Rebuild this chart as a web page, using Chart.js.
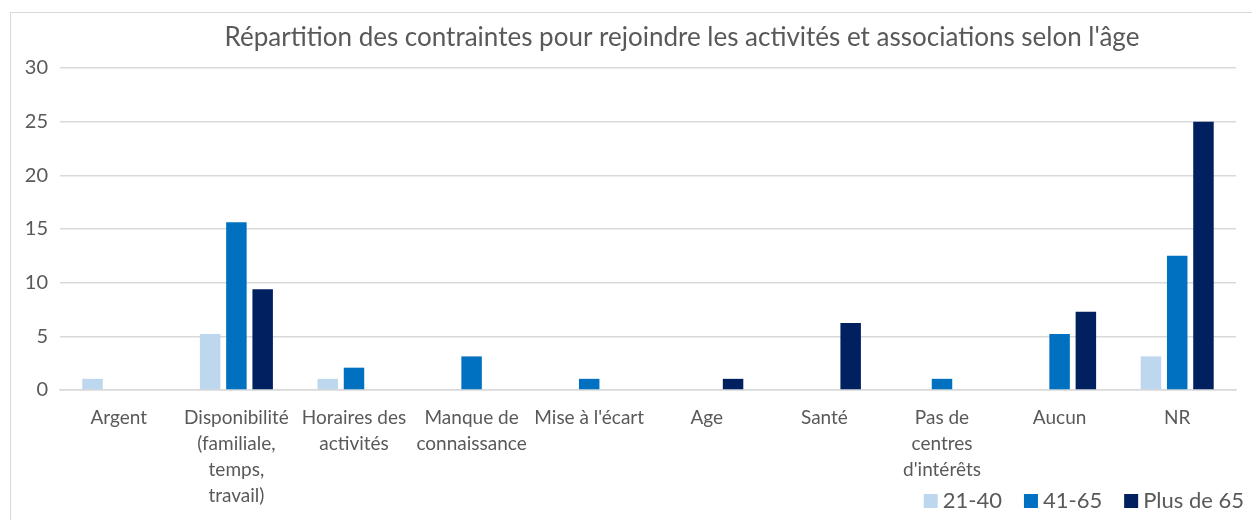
<!DOCTYPE html>
<html>
<head>
<meta charset="utf-8">
<script src="https://cdn.jsdelivr.net/npm/chart.js@4/dist/chart.umd.min.js"></script>
<style>
  html, body { margin: 0; padding: 0; background: #fff; }
  #frame {
    position: absolute; left: 10px; top: 12px;
    width: 1260px; height: 520px;
    border: 1px solid #d9d9d9;
  }
  #wrap { position: absolute; left: 0; top: 0; width: 1252px; height: 520px; }
</style>
</head>
<body>
<div id="frame"></div>
<div id="wrap"><canvas id="chart"></canvas></div>
<script>
const categories = [
    "Argent",
    ["Disponibilité", "(familiale,", "temps,", "travail)"],
    ["Horaires des", "activités"],
    ["Manque de", "connaissance"],
    "Mise à l'écart",
    "Age",
    "Santé",
    ["Pas de", "centres", "d'intérêts"],
    "Aucun",
    "NR",
];
const age21to40 = [1.04, 5.21, 1.04, 0, 0, 0, 0, 0, 0, 3.13];
const age41to65 = [0, 15.63, 2.08, 3.13, 1.04, 0, 0, 1.04, 5.21, 12.5];
const age65plus = [0, 9.38, 0, 0, 0, 1.04, 6.25, 0, 7.29, 25];
const yTicks = [0, 5, 10, 15, 20, 25, 30];
const chartTitle = "Répartition des contraintes pour rejoindre les activités et associations selon l'âge";

const textColor = "#595959";
const font = "Lato, 'Open Sans', sans-serif";

// title and legend drawn by hand: the legend shares its band with the
// multi-line x labels, and the title sits right of the plot centre
const overlayPlugin = {
    id: "overlay",
    afterDraw(chart) {
        const ctx = chart.ctx;
        ctx.save();
        ctx.font = "26px " + font;
        ctx.fillStyle = textColor;
        ctx.textAlign = "center";
        ctx.textBaseline = "middle";
        ctx.fillText(chartTitle, 682, 38);

        // legend, right aligned
        ctx.font = "22px " + font;
        ctx.textAlign = "left";
        const box = 14, gap = 5, spacing = 22, y = 501;
        const items = chart.data.datasets.map((ds) => ({
            label: ds.label,
            color: ds.backgroundColor,
            w: box + gap + ctx.measureText(ds.label).width,
        }));
        let x = 1244 - items.reduce((s, it) => s + it.w, 0) - spacing * (items.length - 1);
        items.forEach((it) => {
            ctx.fillStyle = it.color;
            ctx.fillRect(x, y - box / 2, box, box);
            ctx.fillStyle = textColor;
            ctx.fillText(it.label, x + box + gap, y);
            x += it.w + spacing;
        });
        ctx.restore();
    },
};

new Chart(document.getElementById("chart"), {
    type: "bar",
    data: {
        labels: categories,
        datasets: [
            { label: "21-40", data: age21to40, backgroundColor: "#bdd7ee" },
            { label: "41-65", data: age41to65, backgroundColor: "#0070c0" },
            { label: "Plus de 65", data: age65plus, backgroundColor: "#002060" },
        ],
    },
    plugins: [overlayPlugin],
    options: {
        responsive: true,
        maintainAspectRatio: false,
        animation: false,
        categoryPercentage: 0.67,
        barPercentage: 0.78,
        layout: { padding: { left: 0, right: 16, top: 68, bottom: 0 } },
        plugins: {
            title: { display: false },
            legend: { display: false },
            tooltip: { enabled: false },
        },
        scales: {
            y: {
                min: 0,
                max: 30,
                afterBuildTicks: (scale) => {
                    scale.ticks = yTicks.map((v) => ({ value: v }));
                },
                afterFit: (scale) => { scale.width = 60; },
                border: { display: false },
                grid: { color: "#d9d9d9", lineWidth: 1.5, drawTicks: false },
                ticks: {
                    color: textColor,
                    font: { family: font, size: 20 },
                    padding: 12,
                },
            },
            x: {
                afterFit: (scale) => { scale.height = 130; },
                border: { color: "#d9d9d9", width: 1.5 },
                grid: { display: false },
                ticks: {
                    color: textColor,
                    font: { family: font, size: 19, lineHeight: 1.37 },
                    maxRotation: 0,
                    autoSkip: false,
                    padding: 7,
                },
            },
        },
    },
});
</script>
</body>
</html>
